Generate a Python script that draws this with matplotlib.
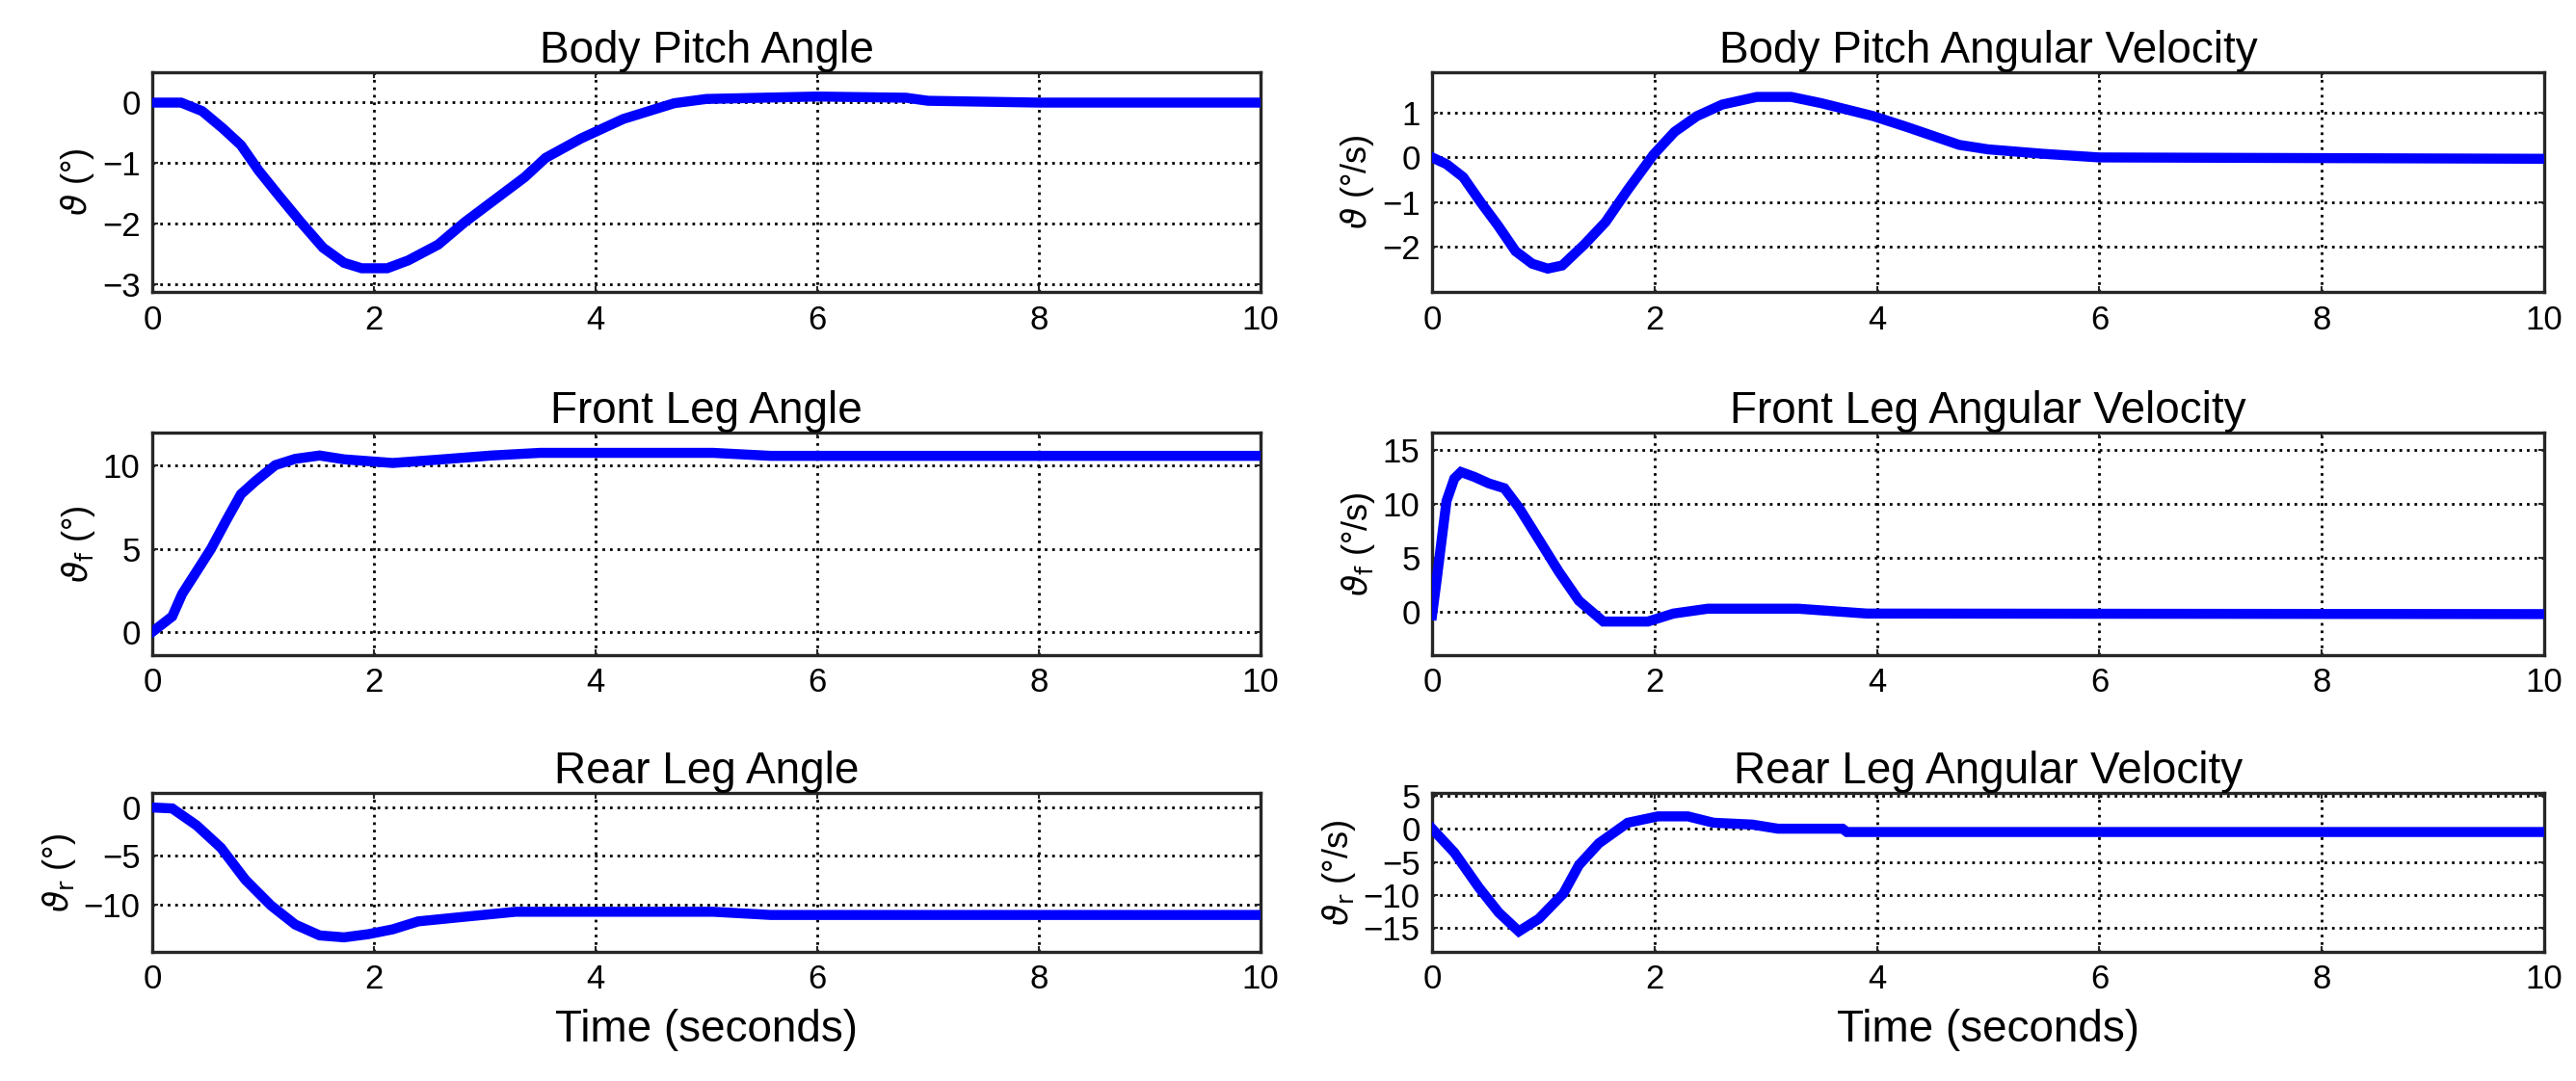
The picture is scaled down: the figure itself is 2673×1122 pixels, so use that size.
import matplotlib
matplotlib.use("Agg")
import matplotlib.pyplot as plt

plt.rcParams['font.family'] = ['Liberation Sans', 'DejaVu Sans']
plt.rcParams['mathtext.fontset'] = 'dejavusans'

# values (time in seconds)
t_pitch = [0, 0.26, 0.45, 0.64, 0.80, 0.96, 1.15, 1.34, 1.54, 1.73, 1.89, 2.12, 2.31,
           2.58, 2.82, 3.09, 3.36, 3.55, 3.87, 4.25, 4.71, 5.0, 6.0, 6.8, 7.0, 8.0, 10.0]
pitch = [0, 0, -0.14, -0.43, -0.70, -1.12, -1.55, -1.97, -2.39, -2.64, -2.73, -2.73, -2.60,
         -2.34, -1.97, -1.60, -1.23, -0.91, -0.59, -0.27, -0.01, 0.06, 0.10, 0.08, 0.03, 0.0, 0.0]

t_pitch_rate = [0, 0.13, 0.28, 0.44, 0.59, 0.75, 0.90, 1.04, 1.17, 1.37, 1.56, 1.76, 1.99,
                2.18, 2.38, 2.61, 2.92, 3.23, 3.50, 3.97, 4.28, 4.74, 5.0, 5.5, 6.0, 10.0]
pitch_rate = [0, -0.15, -0.44, -1.01, -1.51, -2.09, -2.37, -2.48, -2.41, -1.94, -1.44, -0.72, 0.06,
              0.57, 0.92, 1.18, 1.35, 1.35, 1.21, 0.92, 0.67, 0.28, 0.18, 0.08, 0.0, -0.03]

t_front = [0, 0.18, 0.27, 0.40, 0.53, 0.67, 0.80, 0.93, 1.11, 1.29, 1.51, 1.73, 2.17,
           2.62, 3.06, 3.50, 5.06, 5.58, 10.0]
front = [0, 0.93, 2.29, 3.64, 5.0, 6.74, 8.29, 9.07, 10.04, 10.42, 10.62, 10.39, 10.17,
         10.39, 10.62, 10.78, 10.78, 10.6, 10.6]

t_front_rate = [0, 0.04, 0.09, 0.13, 0.20, 0.26, 0.38, 0.51, 0.65, 0.78, 0.96, 1.14, 1.32,
                1.54, 1.94, 2.17, 2.48, 3.29, 3.91, 10.0]
front_rate = [-0.3, 2.85, 7.0, 10.27, 12.35, 12.95, 12.5, 11.9, 11.45, 9.67, 6.7, 3.72, 1.04,
              -0.89, -0.89, -0.15, 0.3, 0.3, -0.15, -0.2]

t_rear = [0, 0.18, 0.40, 0.62, 0.84, 1.07, 1.29, 1.51, 1.73, 1.95, 2.17, 2.40, 2.84,
          3.28, 5.06, 5.58, 10.0]
rear = [0, -0.1, -1.85, -4.16, -7.46, -10.1, -12.08, -13.2, -13.4, -13.07, -12.57, -11.75, -11.25,
        -10.76, -10.76, -11.09, -11.09]

t_rear_rate = [0, 0.20, 0.42, 0.60, 0.78, 0.96, 1.18, 1.32, 1.50, 1.76, 2.03, 2.30, 2.53,
               2.88, 3.11, 3.69, 3.73, 10.0]
rear_rate = [0, -3.6, -8.86, -12.67, -15.5, -13.6, -9.8, -5.5, -2.2, 0.9, 1.86, 1.86, 0.9,
             0.62, 0, 0, -0.5, -0.5]

titles = ['Body Pitch Angle', 'Body Pitch Angular Velocity',
          'Front Leg Angle', 'Front Leg Angular Velocity',
          'Rear Leg Angle', 'Rear Leg Angular Velocity']
ylabels = [r'$\vartheta$ (°)', r'$\vartheta$ (°/s)',
           r'$\vartheta_{\mathrm{f}}$ (°)', r'$\vartheta_{\mathrm{f}}$ (°/s)',
           r'$\vartheta_{\mathrm{r}}$ (°)', r'$\vartheta_{\mathrm{r}}$ (°/s)']
yticks = [[-3, -2, -1, 0], [-2, -1, 0, 1],
          [0, 5, 10], [0, 5, 10, 15],
          [-10, -5, 0], [-15, -10, -5, 0, 5]]
ylims = [(-3.12, 0.5), (-3.0, 1.9),
         (-1.4, 12.0), (-4.0, 16.6),
         (-14.9, 1.5), (-18.6, 5.4)]
xticks = [0, 2, 4, 6, 8, 10]
series = [(t_pitch, pitch), (t_pitch_rate, pitch_rate),
          (t_front, front), (t_front_rate, front_rate),
          (t_rear, rear), (t_rear_rate, rear_rate)]

W, H = 2673, 1122
fig = plt.figure(figsize=(W / 100, H / 100), dpi=100)

# axes boxes in pixels: (left, right) per column, (top, bottom) per row
cols = [(158, 1308), (1486, 2640)]
rows = [(75, 303), (449, 680), (823, 988)]

for i in range(6):
    r, c = divmod(i, 2)
    x0, x1 = cols[c]
    y0, y1 = rows[r]
    ax = fig.add_axes([x0 / W, 1 - y1 / H, (x1 - x0) / W, (y1 - y0) / H])
    t, v = series[i]
    ax.plot(t, v, color='#0000ff', lw=7.5, solid_joinstyle='miter', zorder=3)
    ax.set_xlim(0, 10)
    ax.set_ylim(*ylims[i])
    ax.set_xticks(xticks)
    ax.set_yticks(yticks[i])
    ax.grid(True, color='black', linestyle=(0, (1, 1.8)), linewidth=2.0)
    ax.tick_params(direction='in', length=4, width=1.5, labelsize=25, pad=9,
                   top=True, right=True, colors='#262626', labelcolor='black')
    for s in ax.spines.values():
        s.set_linewidth(2.4)
        s.set_color('#262626')
    ax.set_title(titles[i], fontsize=33, pad=7)
    ax.set_ylabel(ylabels[i], fontsize=26, labelpad=4)
    if r == 2:
        ax.set_xlabel('Time (seconds)', fontsize=33, labelpad=10)

fig.savefig('out.png', dpi=100)
